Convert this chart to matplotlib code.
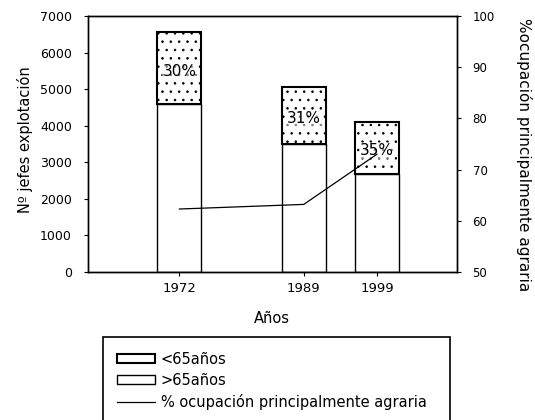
import numpy as np
import matplotlib
matplotlib.use('Agg')
import matplotlib.pyplot as plt
from matplotlib.patches import Patch, Rectangle
from matplotlib.lines import Line2D

plt.rcParams['font.family'] = ['DejaVu Sans']
plt.rcParams['hatch.linewidth'] = 0.6

# datos
years = [1972, 1989, 1999]
menores_65 = [4600, 3500, 2680]
mayores_65 = [1950, 1550, 1430]
pct_labels = ['30%', '31%', '35%']
ocupacion = [62.3, 63.2, 73.0]

fig = plt.figure(figsize=(5.35, 4.2), dpi=100)
ax = fig.add_axes([0.1645, 0.3524, 0.689, 0.6095])

ax.bar(years, menores_65, width=6, color='white', edgecolor='black', linewidth=1.0)
ax.bar(years, mayores_65, width=6, bottom=menores_65, color='white',
       edgecolor='black', linewidth=1.5, hatch='..')

for x, b, h, lab in zip(years, menores_65, mayores_65, pct_labels):
    ax.text(x, b + 0.45 * h, lab, ha='center', va='center', fontsize=11,
            bbox=dict(facecolor='white', edgecolor='none', pad=0.5, alpha=0.5))

ax.set_xlim(1959.5, 2009.9)
ax.set_ylim(0, 7000)
ax.set_xticks(years)
ax.set_yticks(np.arange(0, 7001, 1000))
ax.tick_params(axis='x', labelsize=9.5, length=3, pad=4)
ax.tick_params(axis='y', labelsize=9, length=3, pad=8.5)
ax.set_ylabel('Nº jefes explotación', fontsize=10.5)
ax.yaxis.set_label_coords(-0.149, 0.516)
ax.set_xlabel('Años', fontsize=10.5)
ax.xaxis.set_label_coords(0.5, -0.152)

ax2 = ax.twinx()
ax2.plot(years, ocupacion, color='black', linewidth=0.9)
ax2.set_ylim(50, 100)
ax2.set_yticks(np.arange(50, 101, 10))
ax2.tick_params(axis='y', labelsize=8.5, length=3, pad=8.5)
ax2.set_ylabel('%ocupación principalmente agraria', fontsize=11, rotation=270)
ax2.yaxis.set_label_coords(1.205, 0.457)

for a in (ax, ax2):
    for s in a.spines.values():
        s.set_linewidth(1.0)

# caja de la leyenda
fig.patches.append(Rectangle((0.1925, -0.01), 0.6485, 0.2076, transform=fig.transFigure,
                             facecolor='white', edgecolor='black', linewidth=1.2))

handles = [
    Patch(facecolor='white', edgecolor='black', linewidth=1.5),
    Patch(facecolor='white', edgecolor='black', linewidth=1.0),
    Line2D([0], [0], color='black', linewidth=0.9),
]
labels = ['<65años', '>65años', '% ocupación principalmente agraria']
leg = fig.legend(handles, labels, loc='upper left', bbox_to_anchor=(0.2185, 0.162),
                 frameon=False, fontsize=10.5, handlelength=2.6, handleheight=0.6,
                 labelspacing=0.4, handletextpad=0.4, borderaxespad=0, borderpad=0)

fig.savefig('out.png', dpi=100)
